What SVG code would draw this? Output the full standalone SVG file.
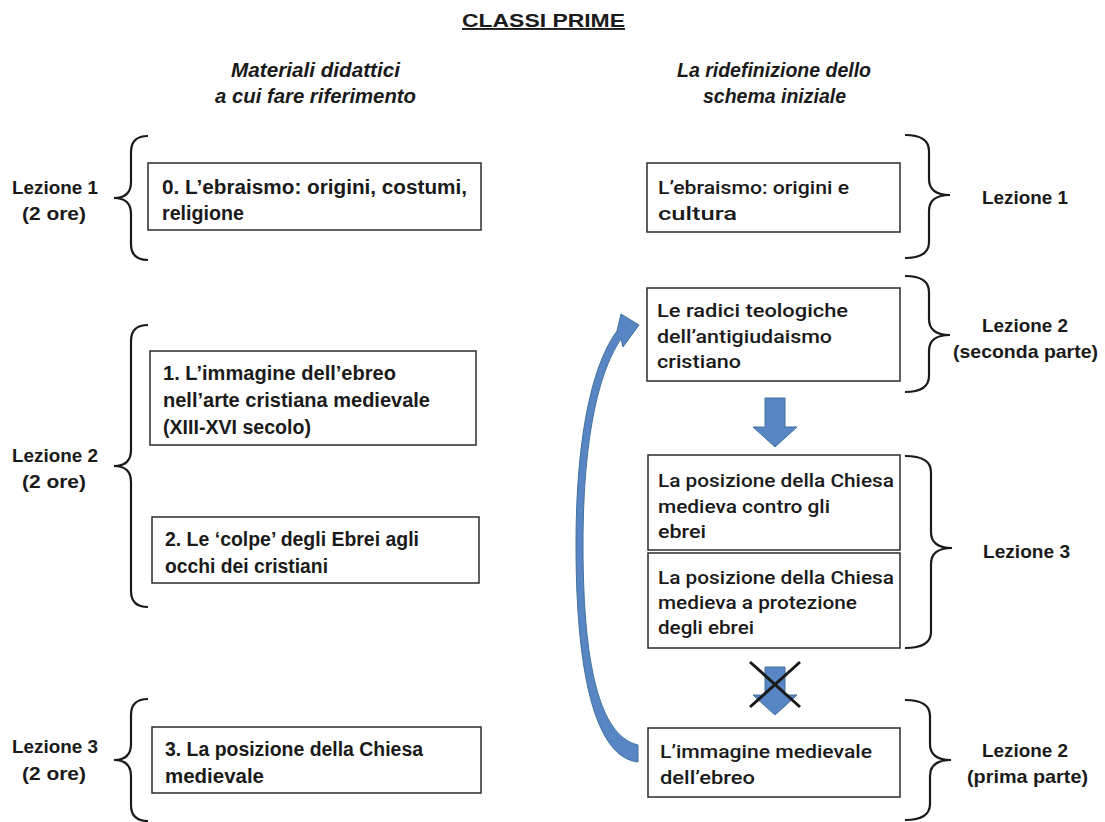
<svg xmlns="http://www.w3.org/2000/svg" width="1105" height="822" viewBox="0 0 1105 822">
<style>
.bg{fill:#fff}
.box{fill:#fff;stroke:#2b2b2b;stroke-width:1.5}
.lt{font-family:"Liberation Sans",Arial,sans-serif;font-weight:bold;font-size:19.5px;fill:#1a1a1a}
.rt{font-family:Roboto,"Liberation Sans",Arial,sans-serif;font-weight:500;font-size:18.5px;fill:#1a1a1a}
.lab{font-family:"Liberation Sans",Arial,sans-serif;font-weight:bold;font-size:19px;fill:#1a1a1a}
.hd{font-family:"Liberation Sans",Arial,sans-serif;font-weight:bold;font-style:italic;font-size:20px;fill:#1a1a1a}
.title{font-family:"Liberation Sans",Arial,sans-serif;font-weight:bold;font-size:19px;fill:#1a1a1a;text-decoration:underline}
.brace{fill:none;stroke:#1a1a1a;stroke-width:2.2}
.barrow{fill:#5886c4;stroke:#41719c;stroke-width:1}
.cross{stroke:#1a1a1a;stroke-width:3}
</style>
<rect class="bg" x="0" y="0" width="1105" height="822"/>

<g id="title">
<text class="title" x="462" y="27" textLength="163" lengthAdjust="spacingAndGlyphs">CLASSI PRIME</text>
</g>
<g id="header-left">
<text class="hd" x="231" y="77" textLength="169" lengthAdjust="spacingAndGlyphs">Materiali didattici</text>
<text class="hd" x="215" y="103" textLength="201" lengthAdjust="spacingAndGlyphs">a cui fare riferimento</text>
</g>
<g id="header-right">
<text class="hd" x="677" y="77" textLength="194" lengthAdjust="spacingAndGlyphs">La ridefinizione dello</text>
<text class="hd" x="703" y="103" textLength="143" lengthAdjust="spacingAndGlyphs">schema iniziale</text>
</g>

<!-- left labels -->
<g id="label-l1">
<text class="lab" x="12" y="194" textLength="86" lengthAdjust="spacingAndGlyphs">Lezione 1</text>
<text class="lab" x="22" y="220" textLength="64" lengthAdjust="spacingAndGlyphs">(2 ore)</text>
</g>
<g id="label-l2">
<text class="lab" x="12" y="462" textLength="86" lengthAdjust="spacingAndGlyphs">Lezione 2</text>
<text class="lab" x="22" y="488" textLength="64" lengthAdjust="spacingAndGlyphs">(2 ore)</text>
</g>
<g id="label-l3">
<text class="lab" x="12" y="753" textLength="86" lengthAdjust="spacingAndGlyphs">Lezione 3</text>
<text class="lab" x="22" y="780" textLength="64" lengthAdjust="spacingAndGlyphs">(2 ore)</text>
</g>

<!-- left braces -->
<g id="brace-l1"><path class="brace" d="M148,136 Q131,136 131,152 L131,182 Q131,198 114,198 Q131,198 131,214 L131,244 Q131,260 148,260"/></g>
<g id="brace-l2"><path class="brace" d="M148,325 Q131,325 131,341 L131,450 Q131,466 114,466 Q131,466 131,482 L131,591 Q131,607 148,607"/></g>
<g id="brace-l3"><path class="brace" d="M148,699 Q131,699 131,715 L131,744 Q131,760 114,760 Q131,760 131,776 L131,805 Q131,821 148,821"/></g>

<!-- left boxes -->
<g id="box0">
<rect class="box" x="148" y="163" width="333" height="67"/>
<text class="lt" x="162" y="194" textLength="305" lengthAdjust="spacingAndGlyphs">0. L’ebraismo: origini, costumi,</text>
<text class="lt" x="162" y="220" textLength="82" lengthAdjust="spacingAndGlyphs">religione</text>
</g>
<g id="box1">
<rect class="box" x="150" y="351" width="326" height="94"/>
<text class="lt" x="163" y="380" textLength="233" lengthAdjust="spacingAndGlyphs">1. L’immagine dell’ebreo</text>
<text class="lt" x="163" y="407" textLength="267" lengthAdjust="spacingAndGlyphs">nell’arte cristiana medievale</text>
<text class="lt" x="163" y="434" textLength="148" lengthAdjust="spacingAndGlyphs">(XIII-XVI secolo)</text>
</g>
<g id="box2">
<rect class="box" x="152" y="517" width="327" height="66"/>
<text class="lt" x="165" y="546" textLength="254" lengthAdjust="spacingAndGlyphs">2. Le ‘colpe’ degli Ebrei agli</text>
<text class="lt" x="165" y="573" textLength="163" lengthAdjust="spacingAndGlyphs">occhi dei cristiani</text>
</g>
<g id="box3">
<rect class="box" x="152" y="727" width="329" height="66"/>
<text class="lt" x="165" y="756" textLength="258" lengthAdjust="spacingAndGlyphs">3. La posizione della Chiesa</text>
<text class="lt" x="165" y="783" textLength="99" lengthAdjust="spacingAndGlyphs">medievale</text>
</g>

<!-- right boxes -->
<g id="boxA">
<rect class="box" x="647" y="163" width="253" height="69"/>
<text class="rt" x="658" y="194" textLength="191" lengthAdjust="spacingAndGlyphs">L’ebraismo: origini e</text>
<text class="rt" x="658" y="220" textLength="79" lengthAdjust="spacingAndGlyphs">cultura</text>
</g>
<g id="boxB">
<rect class="box" x="647" y="288" width="253" height="93"/>
<text class="rt" x="657" y="317" textLength="191" lengthAdjust="spacingAndGlyphs">Le radici teologiche</text>
<text class="rt" x="657" y="343" textLength="175" lengthAdjust="spacingAndGlyphs">dell’antigiudaismo</text>
<text class="rt" x="657" y="368" textLength="84" lengthAdjust="spacingAndGlyphs">cristiano</text>
</g>
<g id="boxC">
<rect class="box" x="648" y="455" width="252" height="95"/>
<text class="rt" x="658" y="487" textLength="236" lengthAdjust="spacingAndGlyphs">La posizione della Chiesa</text>
<text class="rt" x="658" y="513" textLength="172" lengthAdjust="spacingAndGlyphs">medieva contro gli</text>
<text class="rt" x="658" y="538" textLength="48" lengthAdjust="spacingAndGlyphs">ebrei</text>
</g>
<g id="boxD">
<rect class="box" x="648" y="553" width="252" height="95"/>
<text class="rt" x="658" y="584" textLength="236" lengthAdjust="spacingAndGlyphs">La posizione della Chiesa</text>
<text class="rt" x="658" y="609" textLength="199" lengthAdjust="spacingAndGlyphs">medieva a protezione</text>
<text class="rt" x="658" y="634" textLength="96" lengthAdjust="spacingAndGlyphs">degli ebrei</text>
</g>
<g id="boxE">
<rect class="box" x="648" y="728" width="252" height="69"/>
<text class="rt" x="660" y="758" textLength="212" lengthAdjust="spacingAndGlyphs">L’immagine medievale</text>
<text class="rt" x="660" y="784" textLength="95" lengthAdjust="spacingAndGlyphs">dell’ebreo</text>
</g>

<!-- right braces -->
<g id="brace-r1"><path class="brace" d="M905,135 Q929,135 929,151 L929,179 Q929,195 950,195 Q929,195 929,211 L929,242 Q929,258 905,258"/></g>
<g id="brace-r2"><path class="brace" d="M905,276 Q929,276 929,292 L929,319 Q929,335 950,335 Q929,335 929,351 L929,376 Q929,392 905,392"/></g>
<g id="brace-r3"><path class="brace" d="M905,456 Q931,456 931,472 L931,532 Q931,548 952,548 Q931,548 931,564 L931,632 Q931,648 905,648"/></g>
<g id="brace-r4"><path class="brace" d="M905,700 Q930,700 930,716 L930,744 Q930,760 951,760 Q930,760 930,776 L930,804 Q930,820 905,820"/></g>

<!-- right labels -->
<g id="label-r1">
<text class="lab" x="982" y="204" textLength="86" lengthAdjust="spacingAndGlyphs">Lezione 1</text>
</g>
<g id="label-r2">
<text class="lab" x="982" y="332" textLength="86" lengthAdjust="spacingAndGlyphs">Lezione 2</text>
<text class="lab" x="953" y="358" textLength="145" lengthAdjust="spacingAndGlyphs">(seconda parte)</text>
</g>
<g id="label-r3">
<text class="lab" x="983" y="558" textLength="87" lengthAdjust="spacingAndGlyphs">Lezione 3</text>
</g>
<g id="label-r4">
<text class="lab" x="982" y="757" textLength="86" lengthAdjust="spacingAndGlyphs">Lezione 2</text>
<text class="lab" x="967" y="783" textLength="121" lengthAdjust="spacingAndGlyphs">(prima parte)</text>
</g>

<!-- connectors -->
<g id="connectors">
<polygon class="barrow" points="765,398 785,398 785,427 797,427 775,447 753,427 765,427"/>
<polygon class="barrow" points="765,667 785,667 785,695 797,695 775,715 753,695 765,695"/>
<line class="cross" x1="750" y1="662" x2="800" y2="707"/>
<line class="cross" x1="800" y1="662" x2="750" y2="707"/>
<path class="barrow" d="M638,762 C600,758 576,690 576,545 C576,430 594,362 617,331 L621,314 L639,325 L623,347 L621,339 C601,368 583,430 583,545 C583,680 604,737 638,745 Z"/>
</g>
</svg>
